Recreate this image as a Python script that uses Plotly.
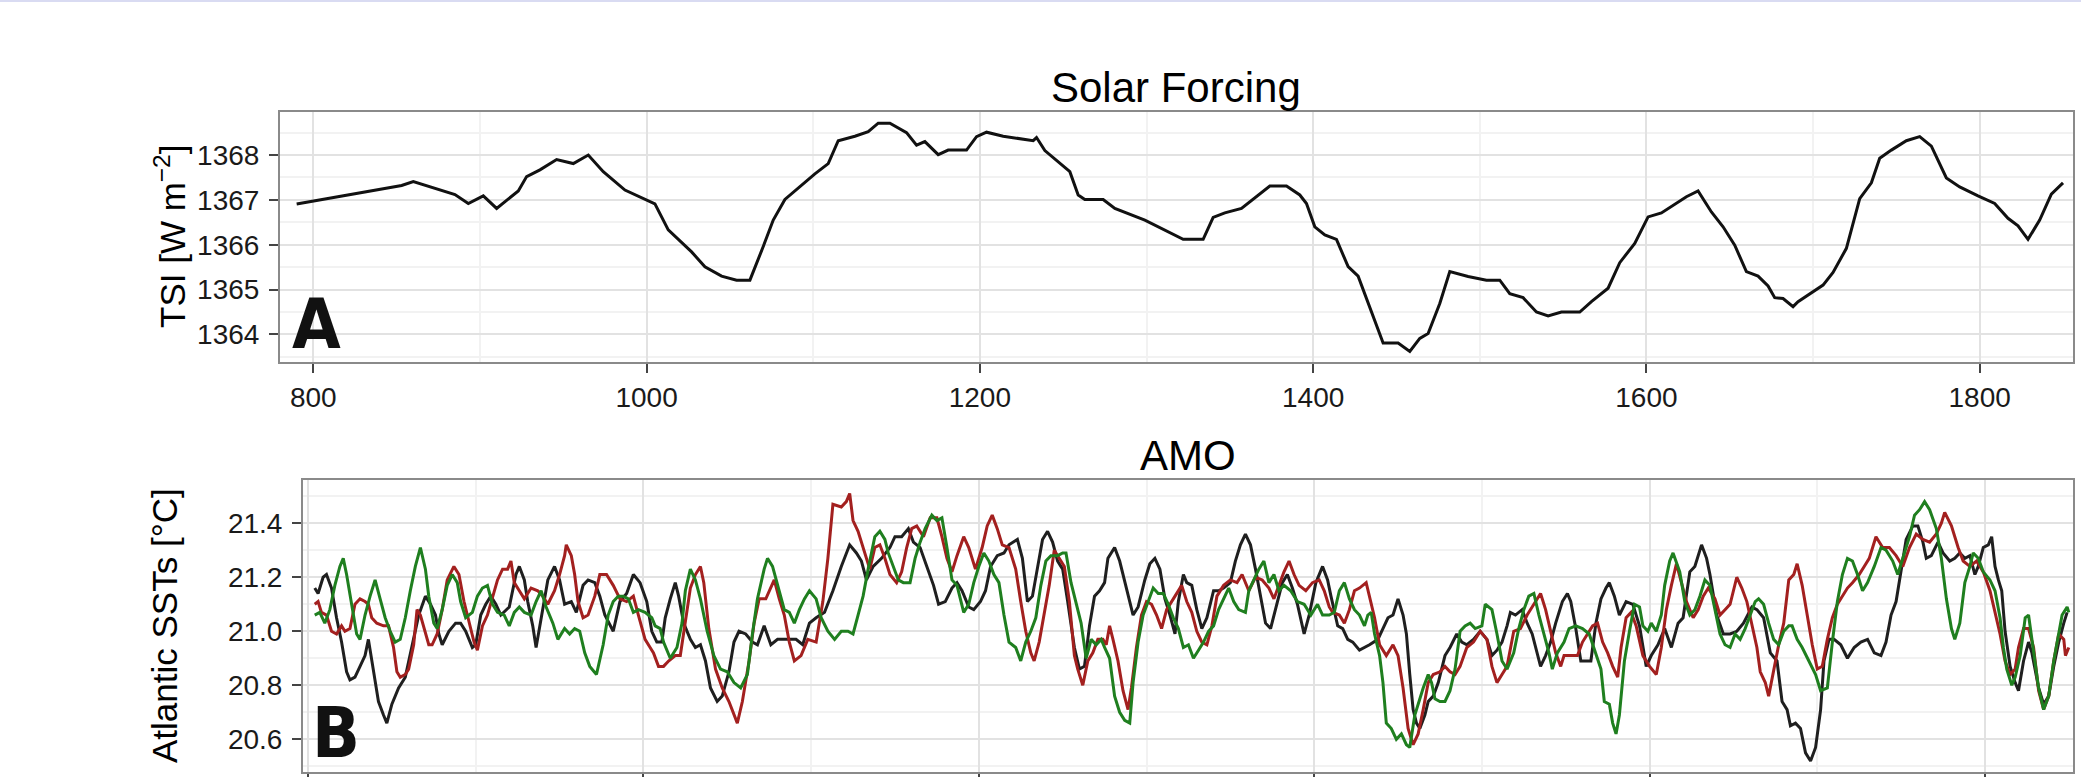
import plotly.graph_objects as go

# ---------------- data ----------------
tsi_years = [790, 850, 853, 860, 885, 893, 902, 910, 923, 928, 936, 946, 956, 965, 974, 987,
             1005, 1013, 1027, 1035, 1045, 1054, 1062, 1070, 1076, 1083, 1093, 1101, 1109, 1115,
             1125, 1133, 1139, 1146, 1156, 1162, 1167, 1175, 1181, 1192, 1198, 1204, 1214, 1232,
             1234, 1239, 1254, 1259, 1263, 1274, 1281, 1299, 1322, 1334, 1340, 1347, 1357, 1374,
             1384, 1392, 1396, 1401, 1407, 1414, 1421, 1427, 1442, 1451, 1458, 1464, 1469, 1476,
             1482, 1493, 1504, 1512, 1518, 1526, 1534, 1541, 1549, 1560, 1567, 1577, 1584, 1593,
             1601, 1609, 1624, 1631, 1639, 1646, 1653, 1660, 1667, 1673, 1677, 1682, 1688, 1691,
             1706, 1712, 1720, 1728, 1735, 1740, 1747, 1756, 1764, 1771, 1780, 1788, 1799, 1809,
             1817, 1823, 1829, 1836, 1843, 1850]
tsi_values = [1366.91, 1367.30, 1367.32, 1367.41, 1367.12, 1366.92, 1367.09, 1366.81, 1367.20, 1367.52,
              1367.67, 1367.90, 1367.81, 1368.00, 1367.63, 1367.22, 1366.91, 1366.33, 1365.84, 1365.51,
              1365.30, 1365.21, 1365.21, 1365.96, 1366.55, 1367.01, 1367.33, 1367.58, 1367.81, 1368.32,
              1368.42, 1368.52, 1368.71, 1368.71, 1368.50, 1368.22, 1368.30, 1368.01, 1368.11, 1368.11,
              1368.41, 1368.51, 1368.42, 1368.32, 1368.39, 1368.10, 1367.63, 1367.11, 1367.01, 1367.01,
              1366.81, 1366.55, 1366.12, 1366.12, 1366.61, 1366.71, 1366.81, 1367.31, 1367.31, 1367.11,
              1366.92, 1366.40, 1366.22, 1366.12, 1365.51, 1365.30, 1363.81, 1363.81, 1363.62, 1363.91,
              1364.02, 1364.69, 1365.40, 1365.29, 1365.21, 1365.21, 1364.91, 1364.82, 1364.50, 1364.41,
              1364.50, 1364.50, 1364.73, 1365.03, 1365.60, 1366.03, 1366.62, 1366.71, 1367.07, 1367.20,
              1366.73, 1366.40, 1365.99, 1365.40, 1365.30, 1365.08, 1364.82, 1364.80, 1364.62, 1364.73,
              1365.10, 1365.38, 1365.92, 1367.03, 1367.38, 1367.93, 1368.11, 1368.32, 1368.41, 1368.20,
              1367.49, 1367.29, 1367.09, 1366.92, 1366.59, 1366.42, 1366.12, 1366.55, 1367.13, 1367.38]

black_years = [804, 806, 809, 811, 814, 817, 820, 823, 825, 828,
               831, 834, 836, 839, 842, 845, 847, 850, 854, 858,
               862, 866, 870, 873, 876, 878, 880, 884, 888, 891,
               894, 898, 900, 903, 906, 909, 912, 915, 920, 924,
               926, 929, 931, 934, 936, 939, 943, 947, 950, 953,
               957, 960, 964, 967, 971, 974, 977, 982, 986, 990,
               994, 998, 1002, 1005, 1008,
               1011, 1013, 1016, 1019, 1021, 1024, 1028, 1031, 1034, 1037,
               1040, 1044, 1047, 1051, 1054, 1057, 1061, 1065, 1068, 1072,
               1076, 1080, 1086, 1091, 1095, 1099, 1103, 1108, 1113, 1118,
               1123, 1127, 1130, 1133, 1137, 1142, 1147, 1150, 1154, 1158,
               1161, 1165, 1169, 1173, 1176, 1180, 1184, 1187, 1190, 1194,
               1197, 1201, 1204, 1207, 1211, 1215, 1218,
               1223, 1226, 1229, 1232, 1235, 1238, 1241, 1244, 1247, 1250,
               1253, 1257, 1260, 1263, 1266, 1269, 1272, 1275, 1277, 1281,
               1284, 1287, 1290, 1292, 1295, 1299, 1302, 1305, 1308, 1311,
               1314, 1317, 1319, 1322, 1324, 1327, 1330, 1333, 1336, 1340,
               1343, 1346, 1350, 1353, 1356, 1359, 1362, 1365, 1368, 1371,
               1374, 1377, 1381, 1384, 1387, 1390, 1394, 1397, 1401, 1405,
               1408, 1410, 1414, 1417, 1420, 1423, 1427,
               1433, 1438, 1441, 1444, 1447, 1450, 1453, 1455, 1457, 1459,
               1461, 1463, 1466, 1468, 1471, 1474, 1478, 1481, 1485, 1488,
               1491, 1495, 1499, 1503, 1506, 1509, 1512, 1515, 1517, 1520,
               1524, 1527, 1530, 1533, 1535, 1538, 1541, 1544, 1548, 1551,
               1553, 1556, 1559, 1562, 1565, 1568, 1571, 1574, 1576, 1579,
               1582, 1586, 1590, 1594, 1598, 1601, 1605, 1609, 1613, 1617,
               1620, 1624, 1627, 1631, 1634, 1636,
               1640, 1644, 1648, 1652, 1656, 1661, 1664, 1668, 1672, 1676,
               1679, 1682, 1684, 1687, 1690, 1693, 1696, 1699, 1702, 1704,
               1707, 1710, 1714, 1718, 1722, 1726, 1730, 1734, 1738, 1741,
               1744, 1747, 1750, 1753, 1757, 1760, 1763, 1765, 1768, 1772,
               1775, 1779, 1782, 1785, 1788, 1791, 1794, 1796, 1799, 1802,
               1804, 1806, 1808, 1810, 1812, 1815, 1818, 1820, 1823, 1826,
               1828, 1832, 1835, 1838, 1841, 1844, 1847, 1849]
black_sst = [21.16, 21.14, 21.20, 21.21, 21.16, 21.05, 20.96, 20.85, 20.82, 20.83,
             20.87, 20.91, 20.97, 20.85, 20.74, 20.69, 20.66, 20.73, 20.79, 20.83,
             20.95, 21.06, 21.13, 21.10, 21.06, 20.99, 20.95, 21.00, 21.03, 21.03,
             21.00, 20.94, 20.95, 21.06, 21.10, 21.13, 21.10, 21.06, 21.09, 21.21,
             21.24, 21.19, 21.11, 21.02, 20.94, 21.05, 21.19, 21.24, 21.19, 21.10,
             21.11, 21.07, 21.17, 21.19, 21.18, 21.13, 21.06, 21.00, 21.11, 21.14,
             21.21, 21.18, 21.11, 21.00, 20.96,
             20.96, 21.05, 21.12, 21.18, 21.13, 21.03, 20.97, 20.94, 20.95, 20.89,
             20.79, 20.74, 20.76, 20.85, 20.96, 21.00, 20.99, 20.96, 20.95, 21.02,
             20.95, 20.97, 20.97, 20.97, 20.95, 21.03, 21.05, 21.07, 21.15, 21.24,
             21.32, 21.29, 21.26, 21.19, 21.24, 21.27, 21.31, 21.35, 21.35, 21.38,
             21.33, 21.31, 21.24, 21.17, 21.10, 21.11, 21.16, 21.18, 21.15, 21.09,
             21.08, 21.11, 21.15, 21.24, 21.28, 21.29, 21.32,
             21.34, 21.27, 21.11, 21.13, 21.24, 21.34, 21.37, 21.33, 21.26, 21.23,
             21.11, 20.94, 20.86, 20.87, 21.02, 21.13, 21.15, 21.18, 21.27, 21.31,
             21.26, 21.19, 21.11, 21.06, 21.09, 21.19, 21.25, 21.27, 21.23, 21.12,
             21.06, 20.99, 21.11, 21.21, 21.18, 21.17, 21.08, 21.01, 21.05, 21.15,
             21.15, 21.16, 21.18, 21.26, 21.32, 21.36, 21.32, 21.23, 21.13, 21.03,
             21.01, 21.08, 21.18, 21.21, 21.16, 21.10, 20.99, 21.06, 21.18, 21.24,
             21.19, 21.13, 21.02, 21.01, 20.97, 20.96, 20.93,
             20.95, 20.97, 21.01, 21.05, 21.06, 21.12, 21.06, 20.99, 20.84, 20.71,
             20.66, 20.64, 20.69, 20.74, 20.76, 20.81, 20.91, 20.94, 20.99, 20.96,
             20.95, 20.97, 21.00, 20.97, 20.91, 20.93, 20.96, 21.02, 21.07, 21.06,
             21.08, 21.03, 20.99, 20.92, 20.87, 20.91, 20.96, 21.03, 21.11, 21.14,
             21.11, 21.01, 20.89, 20.89, 20.89, 21.03, 21.12, 21.16, 21.18, 21.13,
             21.06, 21.11, 21.10, 21.02, 20.87, 20.91, 20.95, 21.01, 20.94, 21.03,
             21.05, 21.22, 21.24, 21.32, 21.27, 21.21,
             21.06, 20.99, 20.99, 21.00, 21.03, 21.09, 21.08, 21.05, 20.92, 20.89,
             20.74, 20.71, 20.65, 20.66, 20.64, 20.55, 20.52, 20.57, 20.71, 20.89,
             20.97, 20.97, 20.95, 20.90, 20.94, 20.96, 20.97, 20.92, 20.91, 20.96,
             21.06, 21.11, 21.22, 21.34, 21.39, 21.39, 21.33, 21.27, 21.28, 21.33,
             21.29, 21.26, 21.27, 21.29, 21.27, 21.28, 21.21, 21.24, 21.31, 21.32,
             21.35, 21.24, 21.19, 21.15, 21.00, 20.87, 20.81, 20.78, 20.89, 20.96,
             20.92, 20.79, 20.73, 20.76, 20.87, 20.96, 21.03, 21.07]

red_years = [804, 806, 808, 811, 814, 817, 820, 822, 825, 828,
             831, 834, 836, 838, 841, 845, 848, 851, 853, 855,
             858, 860, 863, 865, 867, 870, 872, 874, 877, 880,
             883, 887, 890, 893, 896, 899, 901, 904, 907, 910,
             913, 916, 919, 921, 923, 926, 929, 933, 937, 940,
             943, 947, 950, 953, 954, 957, 959, 961, 964, 967,
             971, 974, 978, 982, 986, 990, 994, 997, 1001, 1004,
             1006, 1009,
             1012, 1015, 1019, 1022, 1025, 1028, 1031, 1034, 1036, 1039,
             1043, 1047, 1051, 1054, 1056, 1059, 1063, 1066, 1069, 1073,
             1078, 1081, 1084, 1087, 1090, 1094, 1098, 1103, 1107, 1110,
             1113, 1118, 1121, 1123, 1125, 1128, 1132, 1135, 1138, 1141,
             1144, 1147, 1151, 1154, 1157, 1160, 1163, 1167, 1171, 1175,
             1178, 1181, 1184, 1187, 1191, 1194, 1198, 1202, 1205, 1208,
             1211, 1214, 1218,
             1222, 1225, 1228, 1231, 1233, 1236, 1239, 1242, 1245, 1248,
             1251, 1254, 1257, 1259, 1262, 1265, 1268, 1271, 1274, 1276,
             1278, 1280, 1283, 1286, 1289, 1291, 1294, 1297, 1300, 1303,
             1306, 1309, 1312, 1316, 1319, 1321, 1324, 1327, 1330, 1333,
             1336, 1339, 1342, 1346, 1350, 1354, 1357, 1361, 1365, 1369,
             1373, 1376, 1379, 1382, 1385, 1388, 1391, 1395, 1399, 1403,
             1406, 1409, 1411, 1415, 1418, 1421, 1424, 1427,
             1431, 1433, 1436, 1439, 1443, 1447, 1450, 1453, 1456, 1459,
             1462, 1465, 1468, 1471, 1475, 1478, 1481, 1484, 1487, 1491,
             1495, 1499, 1503, 1506, 1509, 1512, 1515, 1519, 1523, 1527,
             1531, 1535, 1538, 1541, 1544, 1547, 1549, 1553, 1557, 1560,
             1563, 1566, 1569, 1572, 1575, 1578, 1581, 1583, 1586, 1589,
             1592, 1596, 1600, 1604, 1607, 1610, 1613, 1616, 1619, 1622,
             1626, 1629, 1632, 1635,
             1639, 1642, 1645, 1648, 1652, 1655, 1658, 1661, 1664, 1666,
             1669, 1671, 1674, 1677, 1680, 1683, 1686, 1688, 1691, 1694,
             1697, 1700, 1703, 1706, 1709, 1712, 1715, 1718, 1721, 1725,
             1728, 1731, 1735, 1739, 1743, 1747, 1751, 1755, 1759, 1763,
             1767, 1771, 1774, 1776, 1780, 1784, 1787, 1791, 1795, 1799,
             1803, 1806, 1809, 1812, 1815, 1818, 1820, 1823, 1826, 1829,
             1832, 1835, 1838, 1841, 1844, 1847, 1848, 1850]
red_sst = [21.10, 21.11, 21.07, 21.06, 21.00, 20.99, 21.02, 21.00, 21.01, 21.10,
           21.12, 21.11, 21.10, 21.05, 21.03, 21.02, 21.02, 20.94, 20.85, 20.83,
           20.84, 20.86, 20.95, 21.08, 21.06, 20.99, 20.95, 20.95, 20.99, 21.08,
           21.19, 21.24, 21.21, 21.11, 21.03, 20.96, 20.93, 21.02, 21.06, 21.13,
           21.19, 21.23, 21.23, 21.26, 21.18, 21.15, 21.12, 21.16, 21.15, 21.13,
           21.10, 21.15, 21.21, 21.28, 21.32, 21.28, 21.21, 21.11, 21.05, 21.06,
           21.13, 21.21, 21.21, 21.17, 21.12, 21.11, 21.13, 21.06, 20.97, 20.94,
           20.92, 20.87,
           20.87, 20.89, 20.91, 20.91, 21.03, 21.16, 21.21, 21.24, 21.18, 21.01,
           20.86, 20.79, 20.74, 20.69, 20.66, 20.74, 20.89, 21.03, 21.12, 21.12,
           21.19, 21.12, 21.06, 20.96, 20.89, 20.91, 20.97, 20.96, 21.11, 21.27,
           21.47, 21.46, 21.48, 21.51, 21.41, 21.37, 21.29, 21.23, 21.31, 21.32,
           21.27, 21.21, 21.18, 21.22, 21.31, 21.38, 21.39, 21.35, 21.42, 21.42,
           21.35, 21.27, 21.22, 21.28, 21.35, 21.31, 21.23, 21.31, 21.39, 21.43,
           21.38, 21.32, 21.31,
           21.23, 21.11, 21.00, 20.92, 20.89, 20.96, 21.06, 21.17, 21.30, 21.27,
           21.24, 21.11, 20.91, 20.86, 20.80, 20.89, 20.92, 20.97, 20.97, 20.95,
           21.02, 20.97, 20.89, 20.78, 20.71, 20.79, 20.94, 21.06, 21.11, 21.10,
           21.06, 21.01, 21.08, 21.12, 21.15, 21.17, 21.11, 21.07, 21.00, 20.96,
           20.95, 21.02, 21.13, 21.17, 21.19, 21.18, 21.21, 21.15, 21.20, 21.19,
           21.16, 21.12, 21.17, 21.22, 21.26, 21.21, 21.17, 21.15, 21.18, 21.19,
           21.15, 21.09, 21.07, 21.06, 21.03, 21.08, 21.15, 21.16,
           21.18, 21.13, 21.05, 20.95, 20.91, 20.95, 20.91, 20.79, 20.64, 20.58,
           20.62, 20.71, 20.81, 20.84, 20.85, 20.87, 20.85, 20.84, 20.87, 20.94,
           20.96, 21.00, 20.97, 20.87, 20.81, 20.84, 20.87, 21.00, 21.01, 21.06,
           21.10, 21.14, 21.08, 21.00, 20.92, 20.87, 20.91, 20.91, 20.91, 20.96,
           20.99, 21.02, 21.03, 20.96, 20.92, 20.87, 20.83, 20.94, 21.05, 21.07,
           21.02, 20.91, 20.87, 20.84, 20.94, 21.08, 21.17, 21.25, 21.18, 21.11,
           21.05, 21.08, 21.13, 21.16,
           21.12, 21.06, 21.08, 21.10, 21.20, 21.16, 21.11, 21.02, 20.94, 20.85,
           20.81, 20.76, 20.86, 20.95, 21.03, 21.19, 21.21, 21.25, 21.17, 21.06,
           20.95, 20.86, 20.87, 20.97, 21.05, 21.10, 21.13, 21.16, 21.18, 21.21,
           21.24, 21.27, 21.35, 21.31, 21.31, 21.28, 21.24, 21.31, 21.36, 21.34,
           21.33, 21.36, 21.40, 21.44, 21.39, 21.31, 21.26, 21.24, 21.26, 21.22,
           21.15, 21.07, 20.99, 20.89, 20.84, 20.86, 20.94, 21.01, 21.01, 20.94,
           20.78, 20.71, 20.76, 20.89, 20.99, 20.97, 20.91, 20.94]

green_years = [804, 807, 810, 813, 816, 819, 821, 823, 826, 829,
               831, 834, 837, 840, 843, 846, 849, 852, 855, 858,
               861, 864, 867, 870, 872, 875, 877, 880, 883, 886,
               889, 891, 894, 898, 901, 904, 907, 910, 913, 917,
               920, 923, 926, 929, 933, 936, 939, 942, 946, 949,
               953, 956, 959, 962, 965, 968, 972, 974, 976, 979,
               982, 985, 988, 991, 994, 997, 1001, 1005, 1007, 1010,
               1012, 1016, 1020, 1023, 1025, 1028, 1031, 1034, 1038, 1042,
               1046, 1050, 1054, 1058, 1062, 1065, 1068, 1072, 1074, 1077,
               1080, 1084, 1087, 1090, 1093, 1096, 1099, 1103, 1106, 1110,
               1114, 1118, 1122, 1125, 1128, 1131, 1134, 1138, 1141, 1144,
               1146, 1149, 1152, 1155, 1159, 1162, 1165, 1168, 1172, 1175,
               1178, 1181, 1184, 1187, 1191, 1194, 1197, 1200, 1203, 1206,
               1209, 1212, 1215, 1218,
               1222, 1225, 1228, 1231, 1234, 1237, 1240, 1243, 1247, 1250,
               1252, 1255, 1258, 1261, 1264, 1267, 1270, 1273, 1275, 1278,
               1281, 1284, 1287, 1290, 1292, 1295, 1298, 1301, 1304, 1307,
               1310, 1313, 1316, 1319, 1322, 1325, 1328, 1331, 1334, 1337,
               1340, 1343, 1346, 1349, 1352, 1355, 1359, 1361, 1364, 1367,
               1370, 1373, 1376, 1379, 1382, 1386, 1390, 1394, 1398, 1402,
               1405, 1409, 1412, 1415, 1418, 1421, 1424, 1427,
               1430, 1432, 1434, 1436, 1439, 1441, 1443, 1446, 1449, 1452,
               1455, 1457, 1460, 1463, 1465, 1468, 1470, 1472, 1475, 1478,
               1481, 1484, 1487, 1490, 1493, 1496, 1500, 1502, 1506, 1509,
               1512, 1515, 1519, 1522, 1525, 1528, 1531, 1534, 1537, 1540,
               1542, 1545, 1549, 1552, 1556, 1560, 1564, 1568, 1571, 1573,
               1576, 1578, 1580, 1582, 1585, 1588, 1591, 1594, 1596, 1599,
               1601, 1604, 1607, 1609, 1612, 1614, 1618, 1621, 1624, 1627,
               1630, 1633, 1636,
               1639, 1642, 1645, 1648, 1651, 1654, 1657, 1660, 1663, 1665,
               1668, 1671, 1674, 1677, 1680, 1683, 1685, 1688, 1691, 1695,
               1699, 1702, 1706, 1709, 1712, 1715, 1718, 1721, 1724, 1727,
               1730, 1734, 1738, 1741, 1745, 1748, 1751, 1755, 1758, 1761,
               1764, 1767, 1771, 1774, 1777, 1780, 1782, 1785, 1788, 1791,
               1793, 1796, 1799, 1803, 1806, 1809, 1811, 1813, 1816, 1818,
               1821, 1824, 1826, 1829, 1832, 1835, 1838, 1841, 1844, 1846,
               1849, 1850]
green_sst = [21.06, 21.07, 21.03, 21.08, 21.17, 21.24, 21.27, 21.21, 21.10, 20.99,
             20.97, 21.06, 21.13, 21.19, 21.12, 21.05, 21.00, 20.96, 20.97, 21.05,
             21.15, 21.24, 21.31, 21.23, 21.13, 21.03, 21.01, 21.08, 21.17, 21.21,
             21.18, 21.11, 21.05, 21.07, 21.13, 21.16, 21.17, 21.10, 21.07, 21.06,
             21.02, 21.07, 21.09, 21.07, 21.06, 21.11, 21.15, 21.09, 21.03, 20.97,
             21.01, 20.99, 21.01, 21.00, 20.92, 20.87, 20.84, 20.89, 20.95, 21.06,
             21.11, 21.13, 21.13, 21.12, 21.07, 21.08, 21.07, 21.05, 21.02, 21.01,
             20.96, 20.90, 20.94, 21.03, 21.15, 21.23, 21.19, 21.12, 21.00, 20.91,
             20.86, 20.85, 20.81, 20.79, 20.84, 20.99, 21.12, 21.23, 21.27, 21.24,
             21.17, 21.08, 21.07, 21.03, 21.08, 21.12, 21.15, 21.12, 21.05, 21.00,
             20.97, 21.00, 21.00, 20.99, 21.06, 21.13, 21.23, 21.35, 21.37, 21.34,
             21.29, 21.24, 21.19, 21.18, 21.18, 21.27, 21.33, 21.38, 21.43, 21.41,
             21.42, 21.31, 21.19, 21.17, 21.07, 21.10, 21.18, 21.24, 21.29, 21.26,
             21.21, 21.18, 21.06, 20.96,
             20.94, 20.89, 20.96, 21.00, 21.05, 21.17, 21.26, 21.28, 21.28, 21.29,
             21.29, 21.18, 21.11, 21.03, 20.90, 20.97, 20.95, 20.97, 20.94, 20.90,
             20.76, 20.70, 20.67, 20.66, 20.81, 20.96, 21.06, 21.11, 21.16, 21.14,
             21.14, 21.10, 21.05, 21.01, 20.94, 20.95, 20.90, 20.93, 20.96, 21.00,
             21.02, 21.08, 21.12, 21.16, 21.11, 21.08, 21.07, 21.15, 21.19, 21.23,
             21.26, 21.18, 21.21, 21.15, 21.17, 21.15, 21.11, 21.10, 21.06, 21.10,
             21.06, 21.06, 21.07, 21.15, 21.18, 21.12, 21.08, 21.06,
             21.02, 21.06, 21.07, 20.99, 20.91, 20.81, 20.66, 20.64, 20.60, 20.62,
             20.58, 20.57, 20.69, 20.75, 20.79, 20.84, 20.81, 20.75, 20.74, 20.74,
             20.78, 20.86, 21.00, 21.02, 21.03, 21.01, 21.02, 21.10, 21.08, 20.99,
             20.89, 20.86, 20.92, 21.01, 21.08, 21.13, 21.14, 21.06, 20.99, 20.92,
             20.86, 20.92, 20.96, 21.01, 21.02, 21.01, 20.99, 20.92, 20.86, 20.74,
             20.73, 20.66, 20.62, 20.69, 20.89, 21.00, 21.10, 21.09, 21.02, 21.00,
             21.03, 21.00, 21.06, 21.17, 21.26, 21.29, 21.22, 21.11, 21.06, 21.08,
             21.13, 21.19, 21.17,
             21.08, 20.99, 20.95, 20.94, 20.99, 20.97, 21.01, 21.06, 21.11, 21.12,
             21.10, 21.03, 20.97, 20.95, 21.00, 21.02, 21.02, 20.97, 20.94, 20.89,
             20.84, 20.78, 20.79, 20.96, 21.11, 21.21, 21.27, 21.26, 21.21, 21.15,
             21.18, 21.24, 21.31, 21.30, 21.26, 21.21, 21.27, 21.35, 21.43, 21.45,
             21.48, 21.45, 21.38, 21.27, 21.12, 21.01, 20.97, 21.03, 21.18, 21.24,
             21.29, 21.27, 21.22, 21.19, 21.15, 21.05, 20.94, 20.86, 20.80, 20.83,
             20.91, 21.05, 21.06, 20.92, 20.79, 20.71, 20.76, 20.89, 21.00, 21.06,
             21.09, 21.07]

assert len(tsi_years) == len(tsi_values)
assert len(black_years) == len(black_sst), (len(black_years), len(black_sst))
assert len(red_years) == len(red_sst), (len(red_years), len(red_sst))
assert len(green_years) == len(green_sst), (len(green_years), len(green_sst))

x_ticks = [800, 1000, 1200, 1400, 1600, 1800]
tsi_ticks = [1364, 1365, 1366, 1367, 1368]
sst_ticks = [20.6, 20.8, 21.0, 21.2, 21.4]

# ---------------- layout ----------------
W, H = 2081, 777
FONT = "Liberation Sans, Arial, Helvetica, sans-serif"


def fx(p):
    return p / W


def fy(p):
    return 1 - p / H


fig = go.Figure()
fig.add_trace(go.Scatter(x=tsi_years, y=tsi_values, mode="lines",
                         line=dict(color="#111111", width=3), xaxis="x", yaxis="y",
                         showlegend=False, hoverinfo="skip"))
for yrs, vals, col in [(black_years, black_sst, "#1f1f1f"),
                       (red_years, red_sst, "#a3201f"),
                       (green_years, green_sst, "#1f7f1f")]:
    fig.add_trace(go.Scatter(x=yrs, y=vals, mode="lines",
                             line=dict(color=col, width=3), xaxis="x2", yaxis="y2",
                             showlegend=False, hoverinfo="skip"))

common = dict(showline=True, mirror=True, linecolor="#8a8a8a", linewidth=2,
              ticks="outside", ticklen=9, tickwidth=2, tickcolor="#444444",
              showgrid=True, gridcolor="#e2e2e2", gridwidth=2, zeroline=False,
              tickfont=dict(family=FONT, size=28, color="#1a1a1a"),
              automargin=False, fixedrange=True)
minor_x = dict(dtick=100, showgrid=True, gridcolor="#f2f2f2", gridwidth=1.5, ticks="")

fig.update_layout(
    width=W, height=H,
    margin=dict(l=0, r=0, t=0, b=0),
    paper_bgcolor="white", plot_bgcolor="white",
    xaxis=dict(domain=[fx(280), fx(2073)], range=[780, 1856], anchor="y",
               tickvals=x_ticks, minor=minor_x, **common),
    yaxis=dict(domain=[fy(362), fy(112)], range=[1363.385, 1368.96], anchor="x",
               tickvals=tsi_ticks, ticklabelstandoff=4,
               minor=dict(dtick=0.5, showgrid=True, gridcolor="#f2f2f2", gridwidth=1.5, ticks=""),
               **common),
    # bottom x labels fall below the picture's lower edge in the reference: only ticks show
    xaxis2=dict(domain=[fx(303), fx(2073)], range=[797, 1852.5], anchor="y2",
                tickvals=x_ticks, minor=minor_x, showticklabels=False, **common),
    yaxis2=dict(domain=[fy(772), fy(480)], range=[20.479, 21.56], anchor="x2",
                tickvals=sst_ticks, tickformat=".1f", ticklabelstandoff=4,
                minor=dict(dtick=0.1, showgrid=True, gridcolor="#f2f2f2", gridwidth=1.5, ticks=""),
                **common),
    shapes=[dict(type="rect", xref="paper", yref="paper", x0=0, x1=1, y0=fy(2), y1=1,
                 fillcolor="#d9dbf2", line=dict(width=0), layer="above")],
    annotations=[
        dict(text="Solar Forcing", x=fx(1176), y=fy(87), xref="paper", yref="paper",
             showarrow=False, xanchor="center", yanchor="middle",
             font=dict(family=FONT, size=42, color="#000000")),
        dict(text="AMO", x=fx(1188), y=fy(455), xref="paper", yref="paper",
             showarrow=False, xanchor="center", yanchor="middle",
             font=dict(family=FONT, size=42, color="#000000")),
        dict(text="TSI [W m<sup>\u22122</sup>]", x=fx(170), y=fy(237), xref="paper", yref="paper",
             showarrow=False, xanchor="center", yanchor="middle", textangle=-90,
             font=dict(family=FONT, size=35, color="#000000")),
        dict(text="Atlantic SSTs [\u00b0C]", x=fx(164), y=fy(626), xref="paper", yref="paper",
             showarrow=False, xanchor="center", yanchor="middle", textangle=-90,
             font=dict(family=FONT, size=35, color="#000000")),
        dict(text="<b>A</b>", x=fx(290), y=fy(324), xref="paper", yref="paper",
             showarrow=False, xanchor="left", yanchor="middle",
             font=dict(family="Liberation Sans Narrow, DejaVu Sans Condensed, Arial Narrow, sans-serif",
                       size=70, color="#111111")),
        dict(text="<b>B</b>", x=fx(310), y=fy(733), xref="paper", yref="paper",
             showarrow=False, xanchor="left", yanchor="middle",
             font=dict(family="Liberation Sans Narrow, DejaVu Sans Condensed, Arial Narrow, sans-serif",
                       size=70, color="#111111")),
    ],
)

fig.write_html("out.html", config={"displayModeBar": False})
